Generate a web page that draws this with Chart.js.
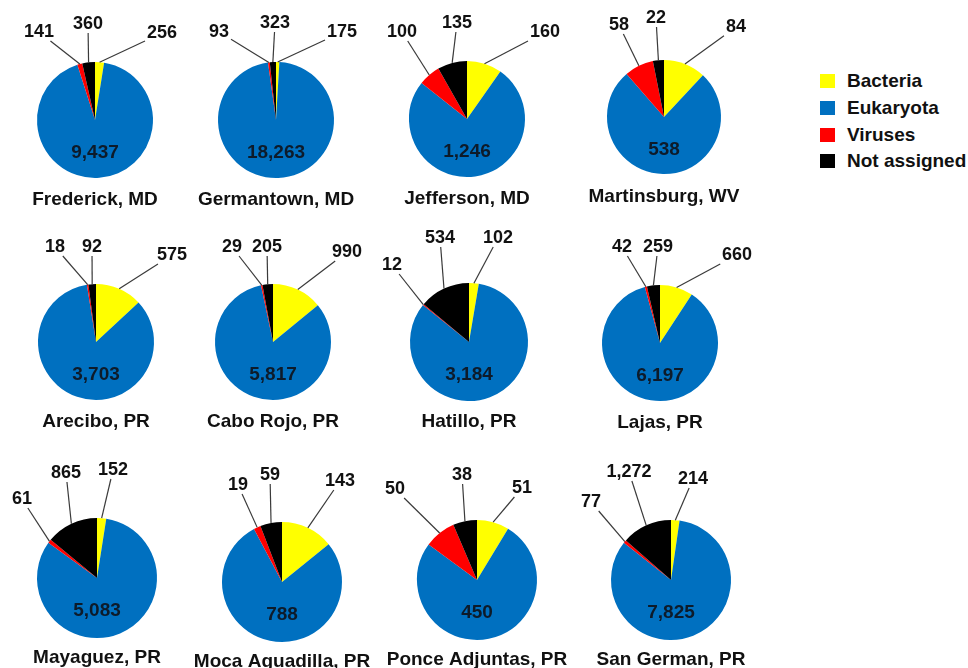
<!DOCTYPE html>
<html>
<head>
<meta charset="utf-8">
<script src="https://cdn.jsdelivr.net/npm/chart.js@4"></script>
<style>
  body { margin: 0; background: #fff; }
  #page { position: relative; width: 968px; height: 668px; overflow: hidden; background: #fff; }
  #page canvas { position: absolute; }
  #legend { position: absolute; left: 820px; top: 68px; font: bold 19px "Liberation Sans", Arial, sans-serif; color: #111; }
  .item { height: 26.7px; display: flex; align-items: center; }
  .box { width: 15px; height: 14px; margin-right: 12px; }
</style>
</head>
<body>
<div id="page">
  <div id="legend"></div>
</div>
<script>
// data
const sites = ['Frederick, MD', 'Germantown, MD', 'Jefferson, MD', 'Martinsburg, WV',
               'Arecibo, PR', 'Cabo Rojo, PR', 'Hatillo, PR', 'Lajas, PR',
               'Mayaguez, PR', 'Moca Aguadilla, PR', 'Ponce Adjuntas, PR', 'San German, PR'];
const groups = ['Bacteria', 'Eukaryota', 'Viruses', 'Not assigned'];
const bacteria    = [256, 175, 160, 84, 575, 990, 102, 660, 152, 143, 51, 214];
const eukaryota   = [9437, 18263, 1246, 538, 3703, 5817, 3184, 6197, 5083, 788, 450, 7825];
const viruses     = [141, 93, 100, 58, 18, 29, 12, 42, 61, 19, 50, 77];
const notAssigned = [360, 323, 135, 22, 92, 205, 534, 259, 865, 59, 38, 1272];

const colors = ['#FFFF00', '#0070C0', '#FF0000', '#000000'];

// layout: pie centre and radius for each site
const pieCenters = [[95, 120], [276, 120], [467, 119], [664, 117],
                    [96, 342], [273, 342], [469, 342], [660, 343],
                    [97, 578], [282, 582], [477, 580], [671, 580]];
const pieRadius = [58, 58, 58, 57, 58, 58, 59, 58, 60, 60, 60, 60];
// label spots relative to the pie centre: [bacteria, viruses, not assigned]
const labelSpots = [
  [[67, -87], [-56, -88], [-7, -96]],
  [[66, -88], [-57, -88], [-1, -97]],
  [[78, -87], [-65, -87], [-10, -96]],
  [[72, -90], [-45, -92], [-8, -99]],
  [[76, -87], [-41, -95], [-4, -95]],
  [[74, -90], [-41, -95], [-6, -95]],
  [[29, -104], [-77, -77], [-29, -104]],
  [[77, -88], [-38, -96], [-2, -96]],
  [[16, -108], [-75, -79], [-31, -105]],
  [[58, -101], [-44, -97], [-12, -107]],
  [[45, -92], [-82, -91], [-15, -105]],
  [[22, -101], [-80, -78], [-42, -108]]
];

const FONT = '"Liberation Sans", Arial, sans-serif';
const W = 200, H = 240, OX = 100, OY = 125;

const fmt = v => v.toLocaleString('en-US');

const pieLabels = {
  id: 'pieLabels',
  afterDatasetsDraw(chart, args, opts) {
    const ctx = chart.ctx;
    const meta = chart.getDatasetMeta(0);
    const vals = chart.data.datasets[0].data;
    const a0 = meta.data[0];
    const cx = a0.x, cy = a0.y, r = a0.outerRadius;
    ctx.save();
    ctx.font = 'bold 18px ' + FONT;
    ctx.textAlign = 'center';
    ctx.textBaseline = 'middle';
    ctx.strokeStyle = '#3a3a3a';
    ctx.lineWidth = 1.2;
    ctx.fillStyle = '#111';
    [[0, 0], [2, 1], [3, 2]].forEach(([i, k]) => {
      const arc = meta.data[i];
      const mid = (arc.startAngle + arc.endAngle) / 2;
      const ax = cx + Math.cos(mid) * r, ay = cy + Math.sin(mid) * r;
      const lx = cx + opts.spots[k][0], ly = cy + opts.spots[k][1];
      const text = fmt(vals[i]);
      const hw = ctx.measureText(text).width / 2 + 2, hh = 9;
      const dx = ax - lx, dy = ay - ly;
      const t = Math.min(hw / Math.max(Math.abs(dx), 1e-6), hh / Math.max(Math.abs(dy), 1e-6));
      ctx.beginPath();
      ctx.moveTo(ax, ay);
      ctx.lineTo(lx + dx * t, ly + dy * t);
      ctx.stroke();
      ctx.fillText(text, lx, ly);
    });
    ctx.fillStyle = '#0d1b2a';
    ctx.font = 'bold 19px ' + FONT;
    ctx.fillText(fmt(vals[1]), cx, cy + 33);
    ctx.fillStyle = '#111';
    ctx.fillText(opts.title, cx, cy + 80);
    ctx.restore();
  }
};

const page = document.getElementById('page');

sites.forEach((site, s) => {
  const canvas = document.createElement('canvas');
  canvas.width = W;
  canvas.height = H;
  canvas.style.left = (pieCenters[s][0] - OX) + 'px';
  canvas.style.top = (pieCenters[s][1] - OY) + 'px';
  page.appendChild(canvas);
  const r = pieRadius[s];
  new Chart(canvas.getContext('2d'), {
    type: 'pie',
    data: {
      labels: groups,
      datasets: [{
        data: [bacteria[s], eukaryota[s], viruses[s], notAssigned[s]],
        backgroundColor: colors,
        borderWidth: 0
      }]
    },
    options: {
      responsive: false,
      animation: false,
      events: [],
      layout: { padding: { left: OX - r, right: W - OX - r, top: OY - r, bottom: H - OY - r } },
      plugins: {
        legend: { display: false },
        tooltip: { enabled: false },
        pieLabels: { spots: labelSpots[s], title: site }
      }
    },
    plugins: [pieLabels]
  });
});

// legend
const legend = document.getElementById('legend');
groups.forEach((g, i) => {
  const row = document.createElement('div');
  row.className = 'item';
  row.innerHTML = '<span class="box" style="background:' + colors[i] + '"></span><span>' + g + '</span>';
  legend.appendChild(row);
});
</script>
</body>
</html>
